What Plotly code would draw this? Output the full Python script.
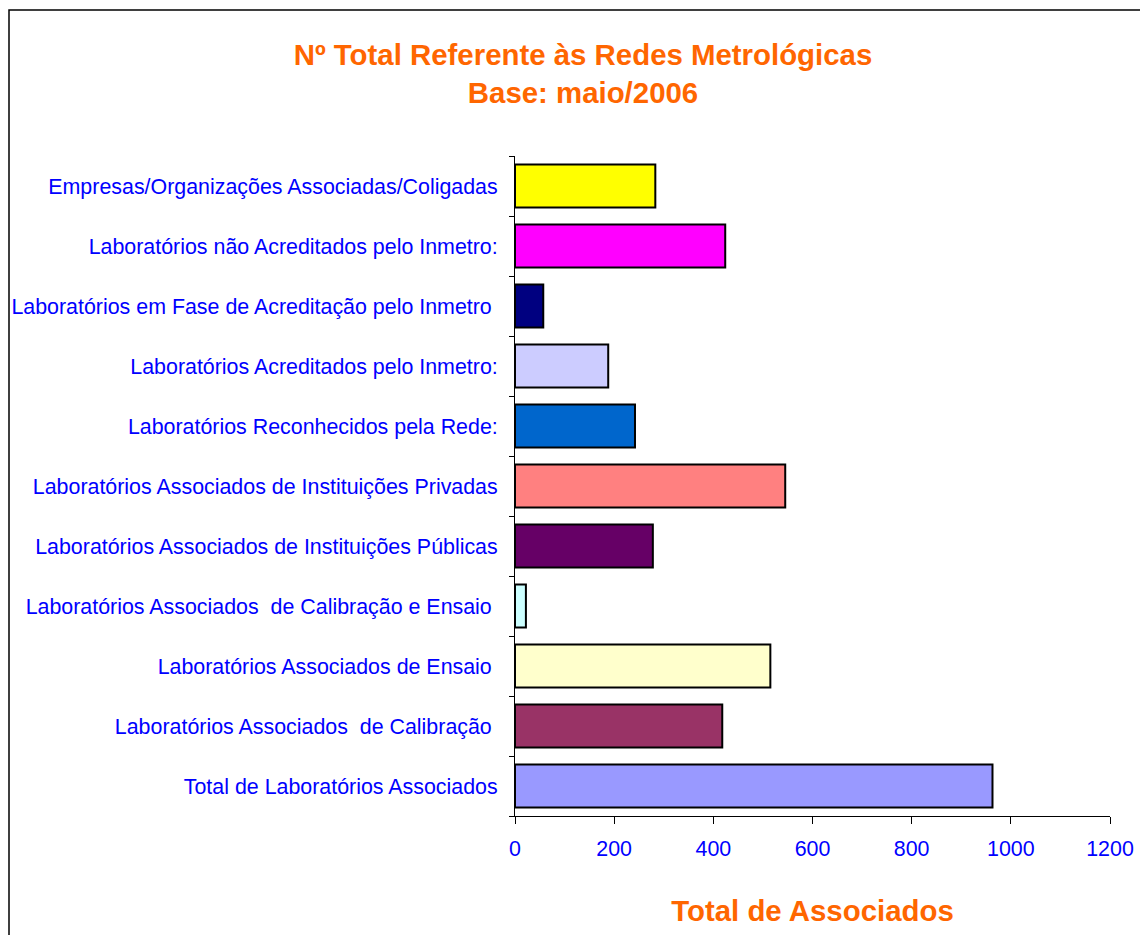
import plotly.graph_objects as go

# categories from bottom to top (plotly draws the first one at the bottom)
categorias = ["Total de Laboratórios Associados",
              "Laboratórios Associados\u00a0\u00a0de Calibração\u00a0",
              "Laboratórios Associados de Ensaio\u00a0",
              "Laboratórios Associados\u00a0\u00a0de Calibração e Ensaio\u00a0",
              "Laboratórios Associados de Instituições Públicas",
              "Laboratórios Associados de Instituições Privadas",
              "Laboratórios Reconhecidos pela Rede:",
              "Laboratórios Acreditados pelo Inmetro:",
              "Laboratórios em Fase de Acreditação pelo Inmetro\u00a0",
              "Laboratórios não Acreditados pelo Inmetro:",
              "Empresas/Organizações Associadas/Coligadas"]

totais = [963, 418, 515, 22, 278, 545, 242, 188, 57, 424, 283]

cores = ["#9999FF", "#993366", "#FFFFCC", "#CCFFFF", "#660066", "#FF8080",
         "#0066CC", "#CCCCFF", "#000080", "#FF00FF", "#FFFF00"]

eixo_x = [0, 200, 400, 600, 800, 1000, 1200]

fonte = "Liberation Sans, Arial, sans-serif"
laranja = "#FF6600"
azul = "#0000FF"

# page body has an 8px margin, so the figure is a bit smaller than the window
W, H = 1140, 927
ml, mr, mt, mb = 507, 38, 148, 119
pw, ph = W - ml - mr, H - mt - mb

fig = go.Figure()
fig.add_trace(go.Bar(y=categorias, x=totais, orientation="h", width=0.72,
                     marker=dict(color=cores, line=dict(color="black", width=2))))

fig.update_layout(
    width=W, height=H,
    paper_bgcolor="white", plot_bgcolor="white",
    margin=dict(l=ml, r=mr, t=mt, b=mb, autoexpand=False),
    showlegend=False,
    font=dict(family=fonte, color=azul, size=21.4),
    title=dict(text="<b>Nº Total Referente às Redes Metrológicas<br>Base: maio/2006</b>",
               font=dict(family=fonte, size=29.4, color=laranja),
               xref="container", x=(583 - 8) / W, xanchor="center",
               yref="container", y=0.939, yanchor="top"),
)

fig.update_xaxes(range=[0, 1200], tickvals=eixo_x, showgrid=False, zeroline=False,
                 showline=True, linecolor="black", linewidth=1, automargin=False,
                 ticks="outside", ticklen=7, tickcolor="black",
                 tickfont=dict(size=21.4, color=azul), ticklabelstandoff=6,
                 title=dict(text="<b>Total de Associados</b>", standoff=40,
                            font=dict(family=fonte, size=29.4, color=laranja)))

fig.update_yaxes(showgrid=False, showline=True, linecolor="black", linewidth=1,
                 automargin=False,
                 ticks="outside", ticklen=5, tickcolor="black", tickson="boundaries",
                 tickfont=dict(size=21.4, color=azul), ticklabelstandoff=12)

# outer chart border (right and bottom edges fall outside the picture)
fig.add_shape(type="rect", xref="paper", yref="paper",
              x0=(1 - ml) / pw, x1=(W + 5 - ml) / pw,
              y0=-(H + 5 - mt - ph) / ph, y1=1 + (mt - 2) / ph,
              line=dict(color="black", width=1.5), layer="below")

fig.write_html("out.html")
